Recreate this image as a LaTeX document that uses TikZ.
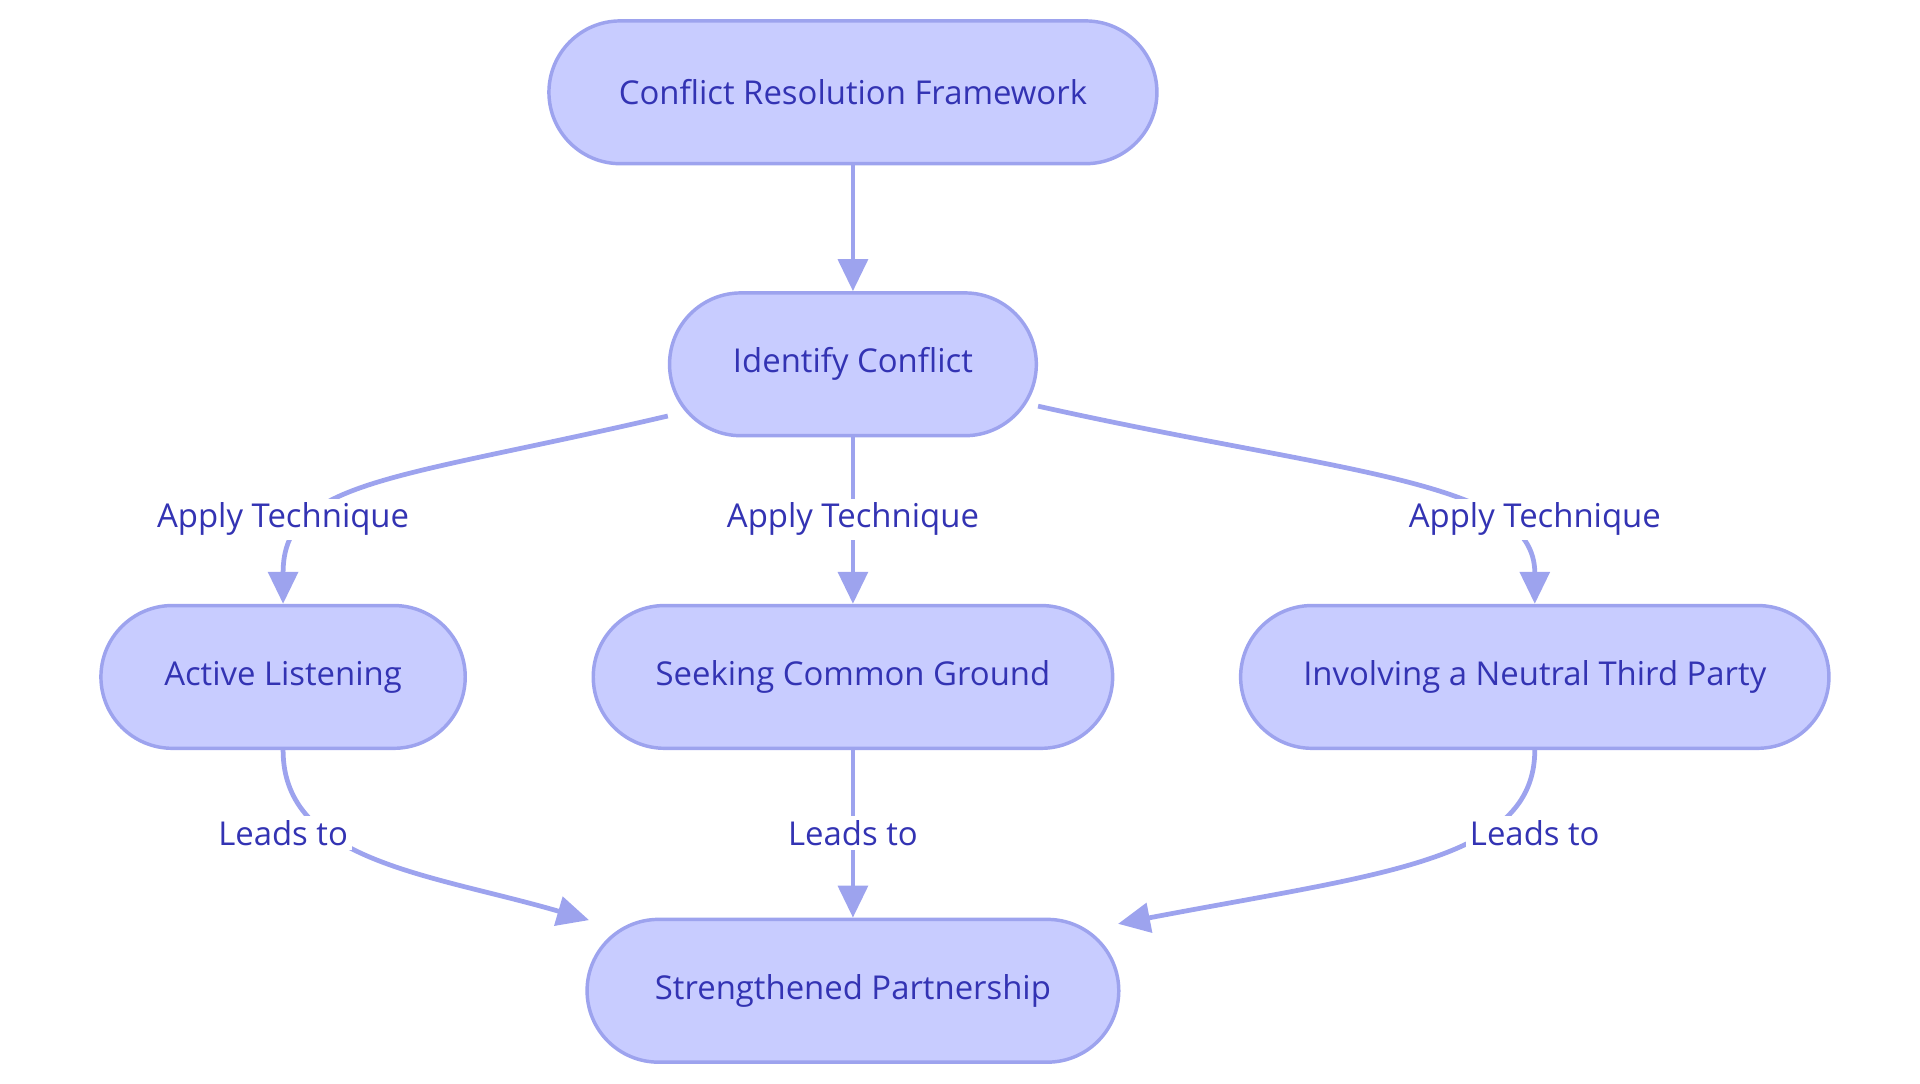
\documentclass[tikz,border=0pt]{standalone}
\usepackage{fontspec}
\setmainfont{Open Sans}
\usetikzlibrary{arrows.meta,positioning}
\definecolor{boxfill}{HTML}{C8CCFF}
\definecolor{boxline}{HTML}{9DA3EE}
\definecolor{txt}{HTML}{3333B3}
\tikzset{
  stage/.style={draw=boxline, fill=boxfill, line width=0.8pt, rounded corners=5.8mm,
    minimum height=11.6mm, text=txt, font=\fontsize{7.6}{9}\selectfont},
  arr/.style={draw=boxline, line width=1.1pt, -{Triangle[length=2.6mm,width=2.4mm]}},
  lbl/.style={fill=white, inner sep=1pt, text=txt, font=\fontsize{7.6}{9}\selectfont}
}
\begin{document}
\begin{tikzpicture}
\useasboundingbox (0,0) rectangle (15.6,8.8);
\node[stage, minimum width=49.4mm] (frame) at (6.93,8.05) {Conflict Resolution Framework};
\node[stage, minimum width=29.8mm] (ident) at (6.93,5.84) {Identify Conflict};
\node[stage, minimum width=29.6mm] (listen) at (2.30,3.30) {Active Listening};
\node[stage, minimum width=42.2mm] (common) at (6.93,3.30) {Seeking Common Ground};
\node[stage, minimum width=47.8mm] (third) at (12.47,3.30) {Involving a Neutral Third Party};
\node[stage, minimum width=43.2mm] (strong) at (6.93,0.75) {Strengthened Partnership};

\draw[arr] (frame) -- (ident);
\draw[arr] ([yshift=-4.2mm]ident.west) .. controls (3.2,4.9) and (2.3,4.9) .. (listen.north);
\draw[arr] (ident) -- (common);
\draw[arr] ([yshift=-3.4mm]ident.east) .. controls (10.9,4.95) and (12.47,4.9) .. (third.north);
\draw[arr] (listen.south) .. controls (2.3,1.8) and (3.5,1.7) .. ([xshift=0.3mm,yshift=-0.2mm]strong.north west);
\draw[arr] (common) -- (strong);
\draw[arr] (third.south) .. controls (12.47,1.8) and (11.2,1.7) .. ([xshift=-0.2mm,yshift=-0.5mm]strong.north east);

\node[lbl] (apply1) at (2.30,4.58) {Apply Technique};
\node[lbl] (apply2) at (6.93,4.58) {Apply Technique};
\node[lbl] (apply3) at (12.47,4.58) {Apply Technique};
\node[lbl] (lead1) at (2.30,2.03) {Leads to};
\node[lbl] (lead2) at (6.93,2.03) {Leads to};
\node[lbl] (lead3) at (12.47,2.03) {Leads to};
\end{tikzpicture}
\end{document}
